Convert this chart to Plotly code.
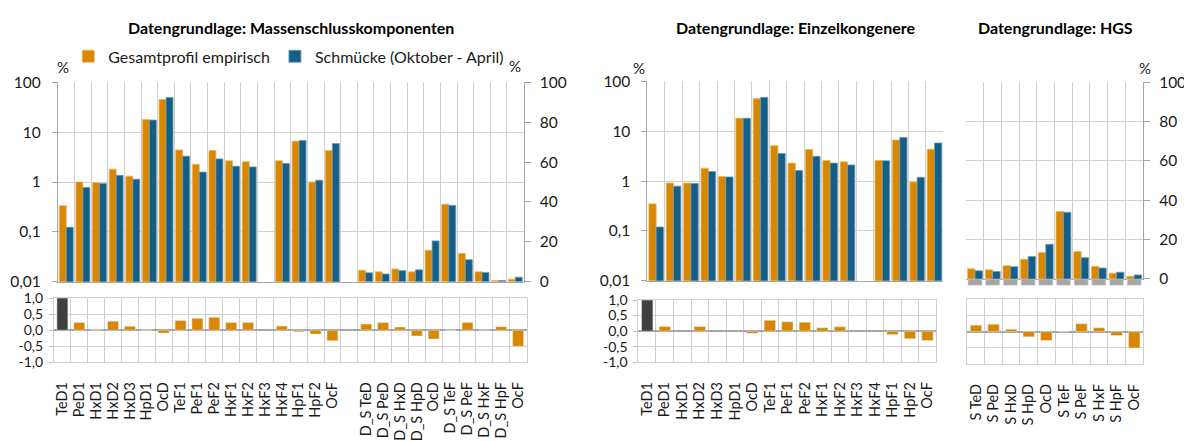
import plotly.graph_objects as go

W, H = 1192, 441
PAGE_OFF = 8  # default page body margin


def fx(px):
    return (px - PAGE_OFF) / W


def fy(py):
    return 1 - (py - PAGE_OFF) / H


# ---------------- data ----------------
mk_cong_cats = ["TeD1", "PeD1", "HxD1", "HxD2", "HxD3", "HpD1", "OcD", "TeF1", "PeF1", "PeF2",
                "HxF1", "HxF2", "HxF3", "HxF4", "HpF1", "HpF2", "OcF"]
mk_ds_cats = ["D_S TeD", "D_S PeD", "D_S HxD", "D_S HpD", "OcD", "D_S TeF", "D_S PeF",
              "D_S HxF", "D_S HpF", "OcF"]

mk_emp_cong = [0.334, 1.00, 0.97, 1.81, 1.31, 18.0, 45.2, 4.4, 2.26, 4.28, 2.66, 2.55, None, 2.66, 6.6, 1.00, 4.28]
mk_sch_cong = [0.124, 0.78, 0.93, 1.36, 1.14, 17.5, 49.4, 3.3, 1.58, 2.91, 2.07, 2.01, None, 2.36, 6.8, 1.09, 5.93]
mk_emp_ds = [5.8, 5.0, 6.4, 5.0, 15.8, 38.8, 14.2, 5.0, 0.6, 1.3]
mk_sch_ds = [4.5, 3.9, 5.6, 6.0, 20.5, 38.3, 11.1, 4.7, 0.6, 2.3]
mk_diff_cong = [1.0, 0.24, 0.02, 0.28, 0.12, 0.01, -0.09, 0.30, 0.37, 0.40, 0.24, 0.24, None, 0.13, -0.05, -0.12, -0.33]
mk_diff_ds = [0.19, 0.24, 0.10, -0.18, -0.27, 0.0, 0.24, 0.01, 0.11, -0.50]

ek_cats = ["TeD1", "PeD1", "HxD1", "HxD2", "HxD3", "HpD1", "OcD", "TeF1", "PeF1", "PeF2",
           "HxF1", "HxF2", "HxF3", "HxF4", "HpF1", "HpF2", "OcF"]
ek_emp = [0.35, 0.91, 0.91, 1.81, 1.23, 18.2, 45.0, 5.1, 2.29, 4.27, 2.58, 2.43, None, 2.58, 6.65, 0.96, 4.33]
ek_sch = [0.12, 0.79, 0.89, 1.56, 1.21, 18.2, 47.7, 3.57, 1.63, 3.13, 2.29, 2.10, None, 2.55, 7.5, 1.19, 5.8]
ek_diff = [1.0, 0.15, None, 0.15, None, None, -0.07, 0.35, 0.30, 0.29, 0.11, 0.14, None, None, -0.11, -0.24, -0.30]

hgs_cats = ["S TeD", "S PeD", "S HxD", "S HpD", "OcD", "S TeF", "S PeF", "S HxF", "S HpF", "OcF"]
hgs_emp = [5.1, 4.6, 6.7, 10.0, 13.4, 34.3, 13.9, 6.4, 2.9, 1.3]
hgs_sch = [4.1, 3.8, 6.2, 11.4, 17.6, 33.9, 10.8, 5.5, 3.4, 2.0]
hgs_diff = [0.20, 0.23, 0.07, -0.16, -0.27, 0.01, 0.24, 0.12, -0.12, -0.50]
hgs_marker = [-1, -1, -1, -1, -1, -1, -1, -1, -1, -1]

log_ticks = [0.01, 0.1, 1, 10, 100]
log_labels = ["0,01", "0,1", "1", "10", "100"]
diff_ticks = [-1, -0.5, 0, 0.5, 1]
diff_labels = ["-1,0", "-0,5", "0,0", "0,5", "1,0"]
lin_ticks = [0, 20, 40, 60, 80, 100]

series_names = ["Gesamtprofil empirisch", "Schmücke (Oktober - April)"]

# ---------------- style ----------------
ORANGE = "#D98600"
ORANGE_EDGE = "#EDB55C"
BLUE = "#165E86"
BLUE_EDGE = "#6C9AB8"
DARK = "#404040"
GRID = "#D0D0D0"
AXIS = "#A6A6A6"
TXT = "#1A1A1A"
FONT = "Lato"
TICKFONT = dict(family=FONT, size=15.5, color=TXT)
DIFFFONT = dict(family=FONT, size=14, color=TXT)
CATFONT = dict(family=FONT, size=14.5, color=TXT)


def uniq(labels):
    seen = {}
    out = []
    for lab in labels:
        k = seen.get(lab, 0)
        seen[lab] = k + 1
        if lab == "":
            out.append("\u200b" * (k + 5))
        else:
            out.append(lab + "\u200b" * k)
    return out


mk_all = mk_cong_cats + [""] + mk_ds_cats
mk_keys = uniq(mk_all)
n_c = len(mk_cong_cats)
n_d = len(mk_ds_cats)
pad_d = [None] * (n_d + 1)
pad_c = [None] * (n_c + 1)
mk_emp_log = mk_emp_cong + pad_d
mk_sch_log = mk_sch_cong + pad_d
mk_emp_lin = pad_c + mk_emp_ds
mk_sch_lin = pad_c + mk_sch_ds
mk_diff = mk_diff_cong + [None] + mk_diff_ds

ek_keys = uniq(ek_cats)
hgs_keys = uniq(hgs_cats)


def diff_colors(cats):
    return [DARK if c == "TeD1" else ORANGE for c in cats]


def omark():
    return dict(color=ORANGE, line=dict(color=ORANGE_EDGE, width=0.8))


def bmark():
    return dict(color=BLUE, line=dict(color=BLUE_EDGE, width=0.8))


fig = go.Figure()

# ----- left panel: Massenschlusskomponenten -----
fig.add_trace(go.Bar(x=mk_keys, y=mk_emp_log, name=series_names[0], marker=omark(),
                     xaxis="x", yaxis="y", legendgroup="a"))
fig.add_trace(go.Bar(x=mk_keys, y=mk_sch_log, name=series_names[1], marker=bmark(),
                     xaxis="x", yaxis="y", legendgroup="b"))
fig.add_trace(go.Bar(x=mk_keys, y=mk_emp_lin, name=series_names[0], marker=omark(),
                     xaxis="x", yaxis="y2", showlegend=False, legendgroup="a"))
fig.add_trace(go.Bar(x=mk_keys, y=mk_sch_lin, name=series_names[1], marker=bmark(),
                     xaxis="x", yaxis="y2", showlegend=False, legendgroup="b"))
fig.add_trace(go.Bar(x=mk_keys, y=mk_diff, marker=dict(color=diff_colors(mk_all)), width=0.65,
                     xaxis="x2", yaxis="y3", showlegend=False))

# ----- middle panel: Einzelkongenere -----
fig.add_trace(go.Bar(x=ek_keys, y=ek_emp, name=series_names[0], marker=omark(),
                     xaxis="x3", yaxis="y4", showlegend=False))
fig.add_trace(go.Bar(x=ek_keys, y=ek_sch, name=series_names[1], marker=bmark(),
                     xaxis="x3", yaxis="y4", showlegend=False))
fig.add_trace(go.Bar(x=ek_keys, y=ek_diff, marker=dict(color=diff_colors(ek_cats)), width=0.65,
                     xaxis="x4", yaxis="y5", showlegend=False))

# ----- right panel: HGS -----
fig.add_trace(go.Bar(x=hgs_keys, y=hgs_emp, name=series_names[0], marker=omark(),
                     xaxis="x5", yaxis="y6", showlegend=False))
fig.add_trace(go.Bar(x=hgs_keys, y=hgs_sch, name=series_names[1], marker=bmark(),
                     xaxis="x5", yaxis="y6", showlegend=False))
fig.add_trace(go.Bar(x=hgs_keys, y=hgs_marker, marker=dict(color="#A6A6A6"), width=0.8,
                     xaxis="x7", yaxis="y8", showlegend=False, hoverinfo="skip"))
fig.add_trace(go.Bar(x=hgs_keys, y=hgs_diff, marker=dict(color=ORANGE), width=0.65,
                     xaxis="x6", yaxis="y7", showlegend=False))


def cat_top(dom, anchor, keys):
    return dict(domain=[fx(dom[0]), fx(dom[1])], anchor=anchor, type="category",
                categoryorder="array", categoryarray=keys, range=[-0.5, len(keys) - 0.5],
                tickson="boundaries", tickmode="linear", tick0=0, dtick=1,
                showgrid=True, gridcolor=GRID, gridwidth=1,
                showticklabels=False, ticks="", showline=True, linecolor=AXIS, linewidth=1)


def cat_bottom(dom, anchor, keys):
    return dict(domain=[fx(dom[0]), fx(dom[1])], anchor=anchor, type="category",
                categoryorder="array", categoryarray=keys, range=[-0.5, len(keys) - 0.5],
                tickson="boundaries", tickmode="linear", tick0=0, dtick=1,
                showgrid=True, gridcolor=GRID, gridwidth=1,
                ticks="", showline=True, mirror=True, linecolor=GRID, linewidth=1,
                tickangle=-90, tickfont=CATFONT, ticklabelstandoff=13)


def diff_axis(dom, anchor, labels=True):
    return dict(domain=[fy(dom[1]), fy(dom[0])], anchor=anchor, range=[-1, 1],
                tickmode="array", tickvals=diff_ticks, ticktext=diff_labels,
                showticklabels=labels, showgrid=True, gridcolor=GRID, gridwidth=1,
                zeroline=True, zerolinecolor=AXIS, zerolinewidth=1.5,
                showline=True, mirror=True, linecolor=GRID, linewidth=1,
                ticks="outside" if labels else "", ticklen=4, tickcolor="#BFBFBF",
                tickfont=DIFFFONT, ticklabelstandoff=3)


def log_axis(dom, anchor):
    return dict(domain=[fy(dom[1]), fy(dom[0])], anchor=anchor, type="log", range=[-2, 2],
                tickmode="array", tickvals=log_ticks, ticktext=log_labels,
                showgrid=True, gridcolor=GRID, gridwidth=1,
                showline=True, linecolor=AXIS, linewidth=1,
                ticks="outside", ticklen=5, tickcolor=AXIS, tickfont=TICKFONT,
                ticklabelstandoff=8)


def lin_axis(dom, anchor, overlay=None, grid=False):
    d = dict(anchor=anchor, range=[0, 100], tickmode="array", tickvals=lin_ticks, side="right",
             showgrid=grid, gridcolor=GRID, gridwidth=1, zeroline=False,
             showline=True, linecolor=AXIS, linewidth=1,
             ticks="outside", ticklen=6, tickcolor=AXIS, tickfont=TICKFONT,
             ticklabelstandoff=6)
    if overlay:
        d["overlaying"] = overlay
    else:
        d["domain"] = [fy(dom[1]), fy(dom[0])]
    return d


fig.update_layout(
    width=W, height=H,
    margin=dict(l=0, r=0, t=0, b=0),
    paper_bgcolor="white", plot_bgcolor="white",
    font=dict(family=FONT, size=15, color=TXT),
    barmode="group", bargap=0.16, bargroupgap=0.0,
    separators=",.",
    showlegend=True,
    legend=dict(orientation="h", x=fx(288), xanchor="center", y=fy(48), yanchor="middle",
                font=dict(family=FONT, size=16, color=TXT), bgcolor="rgba(0,0,0,0)",
                traceorder="normal", itemwidth=30),
    xaxis=cat_top((57, 523), "y", mk_keys),
    yaxis=log_axis((75, 283), "x"),
    yaxis2=lin_axis(None, "x", overlay="y"),
    xaxis2=cat_bottom((53, 526), "y3", mk_keys),
    yaxis3=diff_axis((300, 367), "x2"),
    xaxis3=cat_top((647, 943), "y4", ek_keys),
    yaxis4=log_axis((74, 282), "x3"),
    xaxis4=cat_bottom((638, 936), "y5", ek_keys),
    yaxis5=diff_axis((302, 367), "x4"),
    xaxis5=cat_top((966, 1143), "y6", hgs_keys),
    yaxis6=lin_axis((75, 280), "x5", grid=True),
    xaxis6=cat_bottom((967, 1143), "y7", hgs_keys),
    yaxis7=diff_axis((301, 369), "x6", labels=False),
    xaxis7=dict(domain=[fx(966), fx(1143)], anchor="y8", type="category", categoryorder="array",
                categoryarray=hgs_keys, range=[-0.5, len(hgs_keys) - 0.5], visible=False),
    yaxis8=dict(domain=[fy(287), fy(280)], anchor="x7", range=[-1, 0], visible=False),
)

titles = [("Datengrundlage: Massenschlusskomponenten", 290),
          ("Datengrundlage: Einzelkongenere", 795),
          ("Datengrundlage: HGS", 1055)]
for text, px in titles:
    fig.add_annotation(text="<b>" + text + "</b>", x=fx(px), y=fy(18), xref="paper", yref="paper",
                       xanchor="center", yanchor="middle", showarrow=False,
                       font=dict(family=FONT, size=16, color="#000000"))

for px, py in [(62, 59), (514, 58), (639, 60), (1145, 60)]:
    fig.add_annotation(text="%", x=fx(px), y=fy(py), xref="paper", yref="paper",
                       xanchor="center", yanchor="middle", showarrow=False,
                       font=dict(family=FONT, size=15, color=TXT))

fig.write_html("out.html")
